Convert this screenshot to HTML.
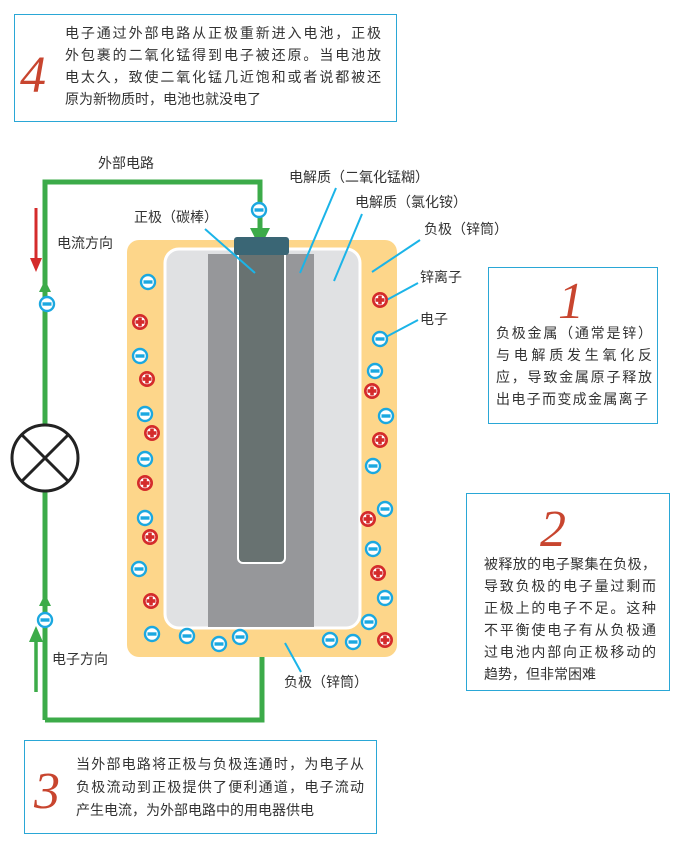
<!DOCTYPE html>
<html><head><meta charset="utf-8"><style>
html,body{margin:0;padding:0;background:#fff}
svg{display:block}
text{font-family:"Liberation Sans","Noto Sans CJK SC",sans-serif;fill:#333;font-size:14px}
.n{font-family:"Liberation Serif","Noto Serif CJK SC",serif;font-style:italic;fill:#c8452f;font-size:52px}
</style></head><body>
<svg width="685" height="845" viewBox="0 0 685 845" xmlns="http://www.w3.org/2000/svg">
<defs>
<g id="m"><circle r="7" fill="#fff" stroke="#1ba8e0" stroke-width="2.4"/><rect x="-4.5" y="-1.7" width="9" height="3.4" fill="#1ba8e0"/></g>
<g id="p"><circle r="8" fill="#d42b2b"/><circle r="5.3" fill="#fff"/><rect x="-4.5" y="-1.8" width="9" height="3.6" fill="#d42b2b"/><rect x="-1.8" y="-4.5" width="3.6" height="9" fill="#d42b2b"/></g>
</defs>
<rect x="14.5" y="14.5" width="382" height="107" fill="#fff" stroke="#2aa7d6"/>
<text class="n" x="20" y="92">4</text>
<text x="65" y="38" textLength="316">电子通过外部电路从正极重新进入电池，正极</text>
<text x="65" y="60" textLength="316">外包裹的二氧化锰得到电子被还原。当电池放</text>
<text x="65" y="82" textLength="316">电太久，致使二氧化锰几近饱和或者说都被还</text>
<text x="65" y="104">原为新物质时，电池也就没电了</text>
<g stroke="#3cab49" stroke-width="5" fill="none">
<polyline points="45,720 45,182 260,182 260,230"/>
<polyline points="45,720 262,720 262,640"/>
</g>
<polygon points="250,228 270,228 260,248" fill="#3cab49"/>
<polygon points="39,292 51,292 45,280" fill="#3cab49"/>
<polygon points="39,606 51,606 45,594" fill="#3cab49"/>
<line x1="36" y1="208" x2="36" y2="262" stroke="#d42b2b" stroke-width="3"/>
<polygon points="30,258 42,258 36,272" fill="#d42b2b"/>
<line x1="36" y1="692" x2="36" y2="640" stroke="#3cab49" stroke-width="3.5"/>
<polygon points="29,642 43,642 36,626" fill="#3cab49"/>
<circle cx="45" cy="458" r="33" fill="#fff" stroke="#222" stroke-width="3"/>
<line x1="22" y1="435" x2="68" y2="481" stroke="#222" stroke-width="3"/>
<line x1="68" y1="435" x2="22" y2="481" stroke="#222" stroke-width="3"/>
<rect x="127" y="240" width="270" height="417" rx="12" fill="#fdd68a"/>
<rect x="165" y="249" width="195" height="379" rx="14" fill="#e0e1e3" stroke="#fff" stroke-width="3"/>
<rect x="208" y="254" width="106" height="373" fill="#96979a"/>
<path d="M238,253 V558 a5,5 0 0 0 5,5 H280 a5,5 0 0 0 5,-5 V253 Z" fill="#687271" stroke="#fff" stroke-width="2"/>
<rect x="234" y="237" width="55" height="18" rx="3" fill="#3a6675"/>
<g stroke="#1bb4e8" stroke-width="2">
<line x1="205" y1="229" x2="255" y2="273"/>
<line x1="336" y1="188" x2="300" y2="273"/>
<line x1="362" y1="214" x2="334" y2="281"/>
<line x1="420" y1="240" x2="372" y2="272"/>
<line x1="418" y1="283" x2="383" y2="302"/>
<line x1="418" y1="320" x2="384" y2="338"/>
<line x1="301" y1="672" x2="285" y2="643"/>
</g>
<use href="#m" x="259" y="210"/><use href="#m" x="47" y="304"/><use href="#m" x="45" y="620"/>
<use href="#m" x="148" y="282"/><use href="#m" x="140" y="356"/><use href="#m" x="145" y="414"/><use href="#m" x="145" y="459"/><use href="#m" x="145" y="518"/><use href="#m" x="139" y="569"/><use href="#m" x="152" y="634"/><use href="#m" x="187" y="636"/><use href="#m" x="219" y="644"/><use href="#m" x="240" y="637"/><use href="#m" x="330" y="640"/><use href="#m" x="353" y="642"/>
<use href="#m" x="380" y="339"/><use href="#m" x="375" y="371"/><use href="#m" x="386" y="416"/><use href="#m" x="373" y="466"/><use href="#m" x="385" y="509"/><use href="#m" x="373" y="549"/><use href="#m" x="385" y="598"/><use href="#m" x="369" y="622"/>
<use href="#p" x="380" y="300"/><use href="#p" x="372" y="391"/><use href="#p" x="380" y="440"/><use href="#p" x="368" y="519"/><use href="#p" x="378" y="573"/><use href="#p" x="385" y="640"/>
<use href="#p" x="140" y="322"/><use href="#p" x="147" y="379"/><use href="#p" x="152" y="433"/><use href="#p" x="145" y="483"/><use href="#p" x="150" y="537"/><use href="#p" x="151" y="601"/>
<text x="98" y="168">外部电路</text>
<text x="57" y="248">电流方向</text>
<text x="134" y="222">正极（碳棒）</text>
<text x="289" y="182">电解质（二氧化锰糊）</text>
<text x="355" y="207">电解质（氯化铵）</text>
<text x="424" y="234">负极（锌筒）</text>
<text x="420" y="282">锌离子</text>
<text x="420" y="324">电子</text>
<text x="284" y="687">负极（锌筒）</text>
<text x="52" y="664">电子方向</text>
<rect x="488.5" y="267.5" width="169" height="156" fill="#fff" stroke="#2aa7d6"/>
<text class="n" x="558" y="318">1</text>
<text x="496" y="338" textLength="156">负极金属（通常是锌）</text>
<text x="496" y="360" textLength="156">与电解质发生氧化反</text>
<text x="496" y="382" textLength="156">应，导致金属原子释放</text>
<text x="496" y="404" textLength="152">出电子而变成金属离子</text>
<rect x="466.5" y="493.5" width="203" height="197" fill="#fff" stroke="#2aa7d6"/>
<text class="n" x="540" y="546">2</text>
<text x="484" y="569" textLength="172">被释放的电子聚集在负极，</text>
<text x="484" y="591" textLength="172">导致负极的电子量过剩而</text>
<text x="484" y="613" textLength="172">正极上的电子不足。这种</text>
<text x="484" y="635" textLength="172">不平衡使电子有从负极通</text>
<text x="484" y="657" textLength="172">过电池内部向正极移动的</text>
<text x="484" y="679">趋势，但非常困难</text>
<rect x="24.5" y="740.5" width="352" height="93" fill="#fff" stroke="#2aa7d6"/>
<text class="n" x="34" y="808">3</text>
<text x="76" y="769" textLength="288">当外部电路将正极与负极连通时，为电子从</text>
<text x="76" y="792" textLength="288">负极流动到正极提供了便利通道，电子流动</text>
<text x="76" y="815">产生电流，为外部电路中的用电器供电</text>
</svg>
</body></html>
